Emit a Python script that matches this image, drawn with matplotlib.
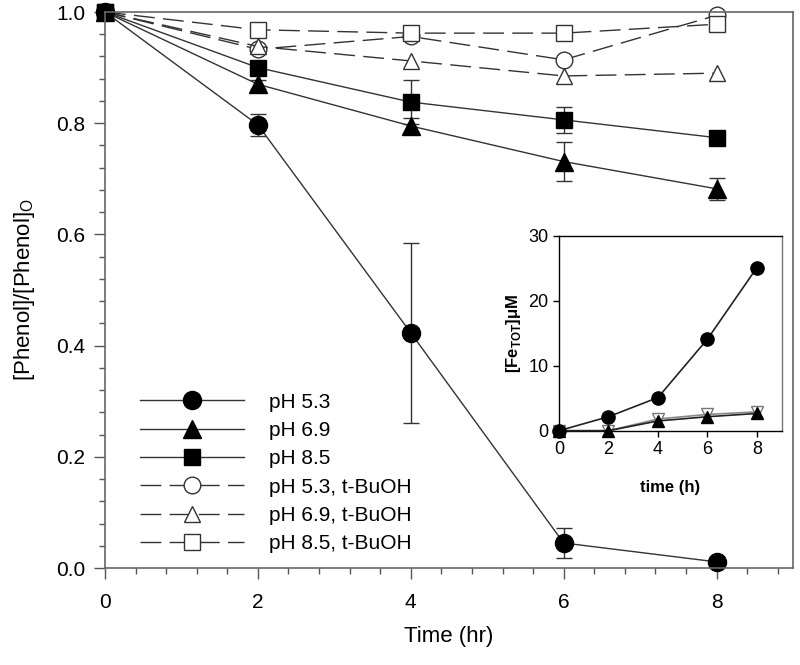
import matplotlib
matplotlib.use("Agg")
import matplotlib.pyplot as plt
from matplotlib.ticker import MultipleLocator
from matplotlib.lines import Line2D

plt.rcParams['font.family'] = ['Liberation Sans', 'DejaVu Sans']
plt.rcParams['mathtext.fontset'] = 'custom'
plt.rcParams['mathtext.rm'] = 'Liberation Sans'
plt.rcParams['mathtext.bf'] = 'Liberation Sans:bold'

# ---- main data ----
time = [0, 2, 4, 6, 8]
ph53 = [1.0, 0.797, 0.423, 0.045, 0.011]
ph53_err = [0.0, 0.02, 0.162, 0.027, 0.0]
ph69 = [1.0, 0.870, 0.795, 0.731, 0.682]
ph69_err = [0.0, 0.008, 0.014, 0.035, 0.02]
ph85 = [1.0, 0.900, 0.838, 0.806, 0.774]
ph85_err = [0.0, 0.0, 0.04, 0.024, 0.0]
ph53_tb = [1.0, 0.933, 0.956, 0.914, 0.994]
ph69_tb = [1.0, 0.938, 0.912, 0.885, 0.890]
ph85_tb = [1.0, 0.968, 0.962, 0.962, 0.978]
labels = ["pH 5.3", "pH 6.9", "pH 8.5", "pH 5.3, t-BuOH", "pH 6.9, t-BuOH", "pH 8.5, t-BuOH"]

# ---- inset data ----
inset_time = [0, 2, 4, 6, 8]
fe_53 = [0.0, 2.15, 5.1, 14.1, 25.1]
fe_69 = [0.0, 0.0, 1.5, 2.15, 2.65]
fe_85 = [0.0, 0.0, 1.8, 2.5, 2.9]

fig = plt.figure(figsize=(8.0, 6.65), dpi=100)
ax = fig.add_axes([105/800, 97/665, 688/800, 556/665])

lc = '#333333'
dash = (0, (15, 6))
kw_err = dict(capsize=6, elinewidth=1, ecolor=lc, capthick=1)
styles = [
    dict(ls='-', marker='o', ms=13, mfc='black', mec='black'),
    dict(ls='-', marker='^', ms=13, mfc='black', mec='black'),
    dict(ls='-', marker='s', ms=11.5, mfc='black', mec='black'),
    dict(ls=dash, marker='o', ms=12, mfc='white', mec=lc),
    dict(ls=dash, marker='^', ms=12, mfc='white', mec=lc),
    dict(ls=dash, marker='s', ms=11, mfc='white', mec=lc),
]
ax.errorbar(time, ph53, yerr=ph53_err, color=lc, lw=1, **styles[0], **kw_err)
ax.errorbar(time, ph69, yerr=ph69_err, color=lc, lw=1, **styles[1], **kw_err)
ax.errorbar(time, ph85, yerr=ph85_err, color=lc, lw=1, **styles[2], **kw_err)
ax.plot(time, ph53_tb, color=lc, lw=1, mew=1, **styles[3])
ax.plot(time, ph69_tb, color=lc, lw=1, mew=1, **styles[4])
ax.plot(time, ph85_tb, color=lc, lw=1, mew=1, **styles[5])

ax.set_xlim(0, 9)
ax.set_ylim(0, 1.0)
ax.set_xticks([0, 2, 4, 6, 8])
ax.set_yticks([0.0, 0.2, 0.4, 0.6, 0.8, 1.0])
ax.set_yticklabels(['0.0', '0.2', '0.4', '0.6', '0.8', '1.0'])
ax.xaxis.set_minor_locator(MultipleLocator(0.4))
ax.yaxis.set_minor_locator(MultipleLocator(0.04))
ax.tick_params(which='major', direction='out', length=8, width=1, color='#555555',
               labelsize=15, pad=10)
ax.tick_params(which='minor', direction='out', length=4, width=1, color='#555555')
ax.tick_params(axis='y', pad=6)
for s in ax.spines.values():
    s.set_color('#666666')
    s.set_linewidth(1.2)
ax.set_xlabel('Time (hr)', fontsize=16, labelpad=10)
ax.set_ylabel('[Phenol]/[Phenol]$_\\mathrm{O}$', fontsize=16, labelpad=14)

handles = [Line2D([], [], color=lc, lw=1, mew=1, **st) for st in styles]
leg = ax.legend(handles, labels, loc='lower left', bbox_to_anchor=(0.03, 0.0),
                frameon=False, fontsize=15, handlelength=5, handletextpad=1.2,
                labelspacing=0.45, borderaxespad=0.3)

# ---- inset ----
ins = fig.add_axes([559/800, (665-430.7)/665, (781.7-559)/800, 195/665])
ins.plot(inset_time, fe_85, color='#888888', lw=1.2, marker='v', ms=9,
         mfc='white', mec='#777777', zorder=2)
ins.plot(inset_time, fe_69, color='#222222', lw=1.2, marker='^', ms=9,
         mfc='black', mec='black', zorder=3)
ins.plot(inset_time, fe_53, color='#222222', lw=1.2, marker='o', ms=9.5,
         mfc='black', mec='black', zorder=4)
ins.set_xlim(0, 9)
ins.set_ylim(0, 30)
ins.set_xticks([0, 2, 4, 6, 8])
ins.set_yticks([0, 10, 20, 30])
ins.tick_params(direction='out', length=4, width=1, labelsize=13)
for s in ins.spines.values():
    s.set_linewidth(1)
ins.spines['right'].set_color('#777777')
ins.set_xlabel('time (h)', fontsize=12, fontweight='bold', labelpad=16)
ins.set_ylabel('[Fe$_\\mathbf{TOT}$]\u03bcM', fontsize=12, fontweight='bold', labelpad=4)
for c in ins.lines:
    c.set_clip_on(False)
for c in ax.lines:
    c.set_clip_on(False)

fig.savefig('out.png', dpi=100)
